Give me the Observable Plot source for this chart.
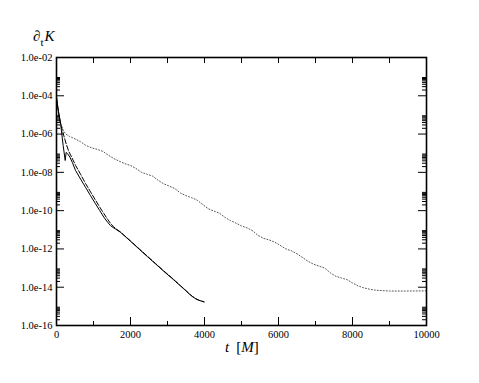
<!DOCTYPE html>
<html>
<head>
<meta charset="utf-8">
<script src="https://cdn.jsdelivr.net/npm/d3@7"></script>
<script src="https://cdn.jsdelivr.net/npm/@observablehq/plot@0.6"></script>
<style>
  html, body { margin: 0; padding: 0; background: #fff; }
  #chart { width: 479px; height: 383px; }
</style>
</head>
<body>
<div id="chart"></div>
<script>
// ---- data (t in M, values given as log10 of ∂tK) ----
const tSolid = [0,30,60,116,180,235,260,297,360,430,514,650,784,920,1054,1170,1279,1380,1459,1530,1595,1730,2000,2250,2450,2676,2900,3100,3216,3350,3486,3580,3667,3760,3847,3920,3982];
const logSolid = [-4.05,-4.5,-4.9,-5.55,-6.6,-7.38,-6.96,-7.02,-7.2,-7.49,-7.9,-8.35,-8.78,-9.22,-9.64,-10.0,-10.34,-10.6,-10.78,-10.88,-10.96,-11.13,-11.6,-12.04,-12.39,-12.78,-13.17,-13.5,-13.7,-13.93,-14.17,-14.34,-14.48,-14.6,-14.68,-14.73,-14.76];

const tDashed = [0,30,70,130,200,260,330,420,520,650,784,920,1054,1170,1279,1380,1459,1530,1595,1730,2000,2250,2450,2676,2900,3100,3216,3350,3486,3580,3667,3760,3847,3920,3990];
const logDashed = [-4.1,-4.55,-5.05,-5.6,-6.1,-6.5,-6.9,-7.25,-7.65,-8.1,-8.58,-9.02,-9.45,-9.82,-10.15,-10.45,-10.66,-10.82,-10.93,-11.12,-11.58,-12.02,-12.37,-12.76,-13.15,-13.48,-13.68,-13.92,-14.15,-14.32,-14.47,-14.6,-14.68,-14.72,-14.77];

const tDotted = [0,50,110,170,250,350,500,650,800,950,1100,1250,1400,1550,1700,1850,2000,2150,2300,2450,2600,2750,2900,3050,3200,3350,3500,3650,3800,3950,4100,4250,4400,4550,4700,4850,5000,5150,5300,5450,5600,5750,5900,6050,6200,6350,6500,6650,6800,6950,7100,7250,7400,7550,7700,7850,8000,8150,8300,8450,8600,8800,9000,9500,10000];
const logDotted = [-4.4,-4.85,-5.4,-5.75,-6.0,-6.12,-6.25,-6.4,-6.6,-6.72,-6.8,-6.9,-7.1,-7.28,-7.42,-7.55,-7.64,-7.8,-8.0,-8.1,-8.2,-8.42,-8.6,-8.72,-8.85,-9.08,-9.22,-9.32,-9.45,-9.68,-9.9,-10.02,-10.13,-10.35,-10.52,-10.65,-10.8,-10.9,-11.05,-11.3,-11.45,-11.53,-11.65,-11.82,-12.0,-12.1,-12.25,-12.45,-12.65,-12.8,-12.9,-13.0,-13.25,-13.43,-13.52,-13.6,-13.78,-13.93,-14.03,-14.1,-14.15,-14.18,-14.2,-14.2,-14.19];

// ---- ticks ----
const xMajor = [0,2000,4000,6000,8000,10000];
const xMinor = [1000,3000,5000,7000,9000];
const yMajorExp = [-2,-4,-6,-8,-10,-12,-14,-16];
const yMinorDecades = [-16,-14,-12,-10,-8,-6,-4];
const yMinorMult = [2,3,4,5,6,7,8,9];

const toRows = (ts, ls) => ts.map((t, i) => ({t, v: Math.pow(10, ls[i])}));
const solid = toRows(tSolid, logSolid);
const dashed = toRows(tDashed, logDashed);
const dotted = toRows(tDotted, logDotted);

const yMajor = yMajorExp.map(e => Math.pow(10, e));
const yMinor = yMinorDecades.flatMap(e => yMinorMult.map(k => k * Math.pow(10, e)));

const fmtY = d => {
  const e = Math.round(Math.log10(d));
  return "1.0e" + (e < 0 ? "-" : "+") + String(Math.abs(e)).padStart(2, "0");
};

const W = 479, H = 383;
const mL = 56, mR = 53, mT = 57, mB = 58;
const fw = W - mL - mR, fh = H - mT - mB;
const font = "'Liberation Serif', 'DejaVu Serif', serif";

const chart = Plot.plot({
  width: W, height: H,
  marginLeft: mL, marginRight: mR, marginTop: mT, marginBottom: mB,
  style: {fontFamily: font, fontSize: "10.5px", color: "#000", background: "#fff"},
  x: {domain: [0, 10000]},
  y: {type: "log", domain: [1e-16, 1e-2]},
  marks: [
    Plot.line(dotted, {x: "t", y: "v", stroke: "#555", strokeWidth: 1, strokeDasharray: "1,2"}),
    Plot.line(dashed, {x: "t", y: "v", stroke: "#000", strokeWidth: 1, strokeDasharray: "5,2"}),
    Plot.line(solid, {x: "t", y: "v", stroke: "#000", strokeWidth: 1}),
    // bottom ticks (inward)
    Plot.tickX(xMajor, {x: d => d, insetTop: fh - 8, stroke: "#000"}),
    Plot.tickX(xMinor, {x: d => d, insetTop: fh - 4, stroke: "#000"}),
    // top ticks (inward)
    Plot.tickX(xMajor.concat(xMinor), {x: d => d, insetBottom: fh - 6, stroke: "#000"}),
    // left ticks
    Plot.tickY(yMajor, {y: d => d, insetRight: fw - 8, stroke: "#000"}),
    Plot.tickY(yMinor, {y: d => d, insetRight: fw - 4, stroke: "#000"}),
    // right ticks
    Plot.tickY(yMajor, {y: d => d, insetLeft: fw - 8, stroke: "#000"}),
    Plot.tickY(yMinor, {y: d => d, insetLeft: fw - 4, stroke: "#000"}),
    Plot.frame({stroke: "#000", strokeWidth: 1.6}),
    Plot.axisX({ticks: xMajor, tickSize: 0, tickPadding: 5, tickFormat: d => String(d), label: null, fontSize: 10.5, fontFamily: font}),
    Plot.axisY({ticks: yMajor, tickSize: 0, tickPadding: 4, tickFormat: fmtY, label: null, fontSize: 10.5, fontFamily: font})
  ]
});

document.getElementById("chart").appendChild(chart);

// Title and axis label with mixed styles
const svg = d3.select(chart);
const title = svg.append("text")
  .attr("x", 33).attr("y", 41).attr("text-anchor", "start")
  .attr("font-family", font).attr("font-size", 15).attr("fill", "#000");
title.append("tspan").text("∂");
title.append("tspan").attr("font-size", 11).attr("dy", 5).text("t");
title.append("tspan").attr("font-style", "italic").attr("dy", -5).attr("dx", 1).text("K");

const xl = svg.append("text")
  .attr("x", 225).attr("y", 352).attr("text-anchor", "start")
  .attr("font-family", font).attr("font-size", 15).attr("fill", "#000");
xl.append("tspan").attr("font-style", "italic").text("t");
xl.append("tspan").attr("dx", 7).text("[");
xl.append("tspan").attr("font-style", "italic").text("M");
xl.append("tspan").text("]");
</script>
</body>
</html>
